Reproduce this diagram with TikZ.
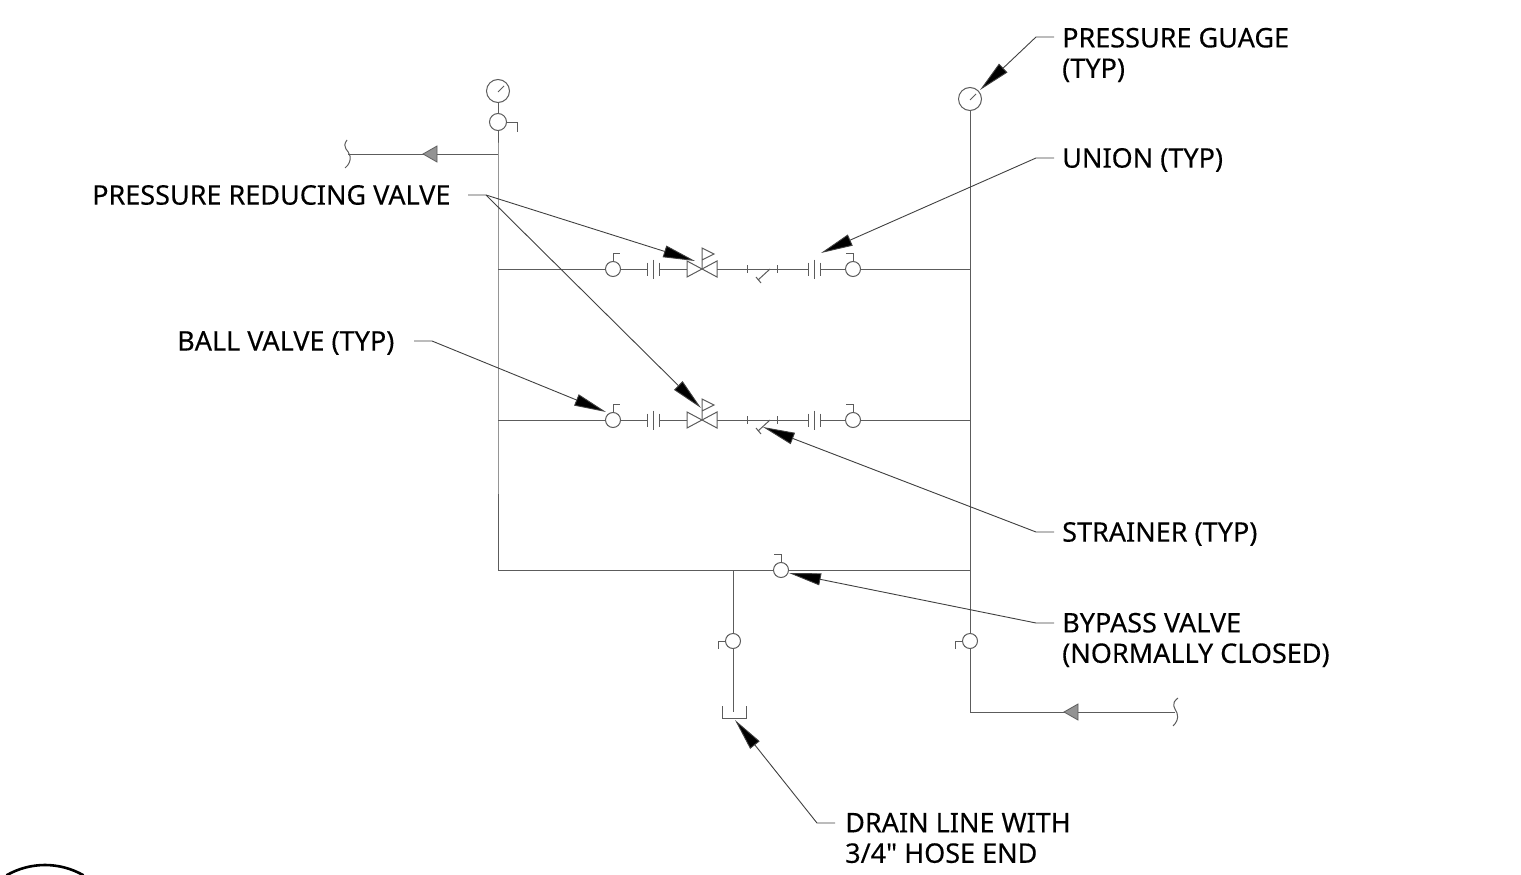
\documentclass[tikz,border=0pt]{standalone}
\usepackage{fontspec}
\setmainfont[Ligatures=TeXOff, FakeBold=0.25]{Noto Sans}
\usetikzlibrary{arrows.meta}
\definecolor{pipe}{gray}{0.36}

% handle of a ball valve: node, first offset, second offset
\newcommand{\hnd}[3]{\draw[pipe line] (#1) -- ++#2 -- ++#3;}
% union: name, x, y
\newcommand{\unn}[3]{
    \coordinate (#1l) at (#2-6,#3);
    \coordinate (#1r) at (#2+6,#3);
    \draw[pipe line] (#2-6,#3-6.5) -- (#2-6,#3+6.5);
    \draw[pipe line] (#2,#3-9.5) -- (#2,#3+9.5);
    \draw[pipe line] (#2+6,#3-6.5) -- (#2+6,#3+6.5);
}
% reducing valve, strainer and the pipes between the two ball valves of one branch
\newcommand{\branch}[2]{
    \node[ballv] (#1a) at (613,#2) {};
    \node[ballv] (#1b) at (853,#2) {};
    \hnd{#1a.north}{(0,-8)}{(7,0)}
    \hnd{#1b.north}{(0,-8)}{(-7,0)}
    \unn{#1u}{653}{#2}
    \unn{#1w}{814}{#2}
    \coordinate (#1vl) at (687,#2);
    \coordinate (#1vr) at (717,#2);
    \draw[pipe line] (702,#2) -- (687,#2-8) -- (687,#2+8) -- cycle;
    \draw[pipe line] (702,#2) -- (717,#2-8) -- (717,#2+8) -- cycle;
    \draw[pipe line] (702,#2) -- (702,#2-9) -- (702,#2-21) -- (714,#2-15) -- (702,#2-9);
    \draw[pipe line] (747,#2-4) -- (747,#2+4);
    \draw[pipe line] (777,#2-4) -- (777,#2+4);
    \draw[pipe line] (770,#2) -- (758,#2+11);
    \draw[pipe line] (756,#2+8) -- (761,#2+14);
    \draw[pipe line] (#1a) -- (#1ul);
    \draw[pipe line] (#1ur) -- (#1vl);
    \draw[pipe line] (#1vr) -- (#1wl);
    \draw[pipe line] (#1wr) -- (#1b);
}

\begin{document}
\begin{tikzpicture}[x=1pt, y=-1pt,
    pipe line/.style={draw=pipe, line width=1pt},
    ballv/.style={circle, draw=pipe, line width=1pt, minimum size=15pt, inner sep=0pt},
    gauge/.style={circle, draw=pipe, line width=1pt, minimum size=23pt, inner sep=0pt},
    flow/.style={draw=pipe, line width=.8pt, fill=gray!85},
    leader/.style={draw=black!75, line width=.9pt, -{Triangle[length=32pt, width=12pt, fill=black]}},
    txt/.style={anchor=west, align=left, inner sep=0pt, font=\fontsize{27}{30.5}\selectfont}]
    \useasboundingbox (0,0) rectangle (1521,875);

    % left riser
    \node[gauge] (g1) at (498,91) {};
    \node[ballv, minimum size=17pt] (v1) at (498,122) {};
    \coordinate (j1) at (498,154);
    \coordinate (j2) at (498,269);
    \coordinate (j3) at (498,420);
    \coordinate (j4) at (498,570);
    \coordinate (e1) at (348,154);
    \hnd{v1.east}{(10,0)}{(0,10)}
    \draw[pipe line, line width=.8pt] (g1.center) ++(0,1) -- ++(6,-6);
    \draw[pipe line] (g1) -- (v1);
    \draw[pipe line] (v1) -- (j1) -- (j2) -- (j3) -- (j4);
    \draw[pipe line] (j1) -- (e1);
    \draw[flow] (423,154) -- (437,146) -- (437,162) -- cycle;
    \draw[pipe line] (347,140) .. controls (341,148) and (349,150) .. (350,156) .. controls (351,160) and (349,165) .. (345,168);

    % right riser
    \node[gauge] (g2) at (970,99) {};
    \node[ballv] (v2) at (970,641) {};
    \coordinate (k2) at (970,269);
    \coordinate (k3) at (970,420);
    \coordinate (k4) at (970,570);
    \coordinate (k5) at (970,712);
    \coordinate (e2) at (1175,712);
    \hnd{v2.west}{(-7,0)}{(0,8)}
    \draw[pipe line, line width=.8pt] (g2.center) ++(0,1) -- ++(6,-6);
    \draw[pipe line] (g2) -- (k2) -- (k3) -- (k4) -- (v2);
    \draw[pipe line] (v2) -- (k5) -- (e2);
    \draw[flow] (1064,712) -- (1078,704) -- (1078,720) -- cycle;
    \draw[pipe line] (1178,698) .. controls (1170,704) and (1175,708) .. (1177,713) .. controls (1179,719) and (1176,723) .. (1173,726);

    % branches
    \branch{t}{269}
    \branch{m}{420}
    \draw[pipe line] (j2) -- (ta);
    \draw[pipe line] (tb) -- (k2);
    \draw[pipe line] (j3) -- (ma);
    \draw[pipe line] (mb) -- (k3);

    % bypass and drain
    \node[ballv] (v3) at (781,570) {};
    \node[ballv] (v4) at (733,641) {};
    \coordinate (d1) at (733,570);
    \coordinate (d2) at (733,712);
    \hnd{v3.north}{(0,-8)}{(-7,0)}
    \hnd{v4.west}{(-7,0)}{(0,8)}
    \draw[pipe line] (j4) -- (v3);
    \draw[pipe line] (v3) -- (k4);
    \draw[pipe line] (d1) -- (v4);
    \draw[pipe line] (v4) -- (d2);
    \draw[pipe line] (722,706) -- (722,718) -- (746,718) -- (746,706);

    % labels
    \node[txt] (l1) at (1062,55) {PRESSURE GUAGE\\(TYP)};
    \node[txt] (l2) at (1062,160) {UNION (TYP)};
    \node[txt] (l3) at (92,195) {PRESSURE REDUCING VALVE};
    \node[txt] (l4) at (177,343) {BALL VALVE (TYP)};
    \node[txt] (l5) at (1062,534) {STRAINER (TYP)};
    \node[txt] (l6) at (1062,640) {BYPASS VALVE\\(NORMALLY CLOSED)};
    \node[txt] (l7) at (845,838) {DRAIN LINE WITH\\3/4" HOSE END};

    % leaders
    \coordinate (a1) at (1054,37);
    \coordinate (a2) at (1054,158);
    \coordinate (a3) at (468,195);
    \coordinate (a4) at (414,341);
    \coordinate (a5) at (1054,532);
    \coordinate (a6) at (1054,623);
    \coordinate (a7) at (835,823);
    \coordinate (b3) at (486,195);
    \draw[leader] (a1) -- (1036,37) -- (980,90);
    \draw[leader] (a2) -- (1036,158) -- (821,253);
    \draw[leader] (a3) -- (b3) -- (695,261);
    \draw[leader] (b3) -- (701,408);
    \draw[leader] (a4) -- (432,341) -- (606,412);
    \draw[leader] (a5) -- (1036,532) -- (763,427);
    \draw[leader] (a6) -- (1036,623) -- (789,573);
    \draw[leader] (a7) -- (817,823) -- (735,720);

    % cut off circle at the lower edge
    \draw[line width=2.6pt] (45,942) ++(240:77) arc[start angle=240, end angle=300, radius=77];
\end{tikzpicture}
\end{document}
